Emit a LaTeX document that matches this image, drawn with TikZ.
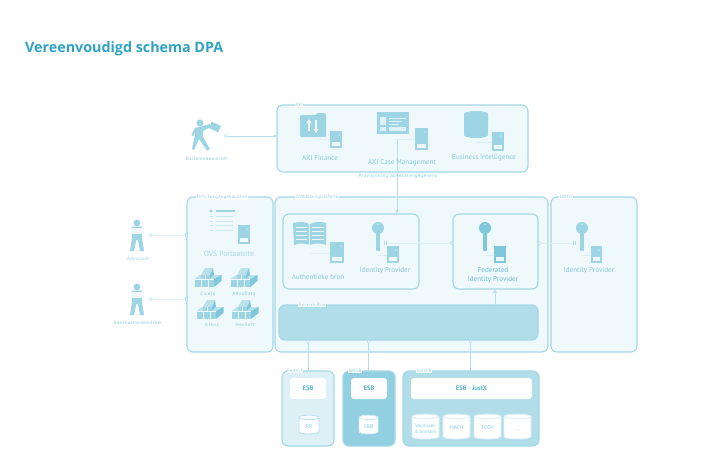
\documentclass[tikz,border=0pt]{standalone}
\usepackage{fontspec}
\setmainfont{PT Sans}
\newfontfamily\tinyfont[LetterSpace=9]{PT Sans}
\newfontfamily\titlefont{Open Sans}
\usetikzlibrary{arrows.meta,calc}
\definecolor{edgeblue}{HTML}{A3D8E6}
\definecolor{iconblue}{HTML}{9DD5E4}
\definecolor{deepblue}{HTML}{7FC7DB}
\definecolor{paleline}{HTML}{DDF0F5}
\definecolor{wire}{HTML}{B4DFEA}
\definecolor{panelbg}{HTML}{EFF8FB}
\definecolor{txtblue}{HTML}{85CBDD}
\definecolor{txtdeep}{HTML}{56B3CE}
\definecolor{titleblue}{HTML}{2FA3C6}
\tikzset{
  x=1pt,y=-1pt,
  panel/.style={draw=edgeblue,fill=panelbg,line width=1.1pt,rounded corners=6pt,anchor=north west,inner sep=0pt,outer sep=0pt},
  esbbox/.style={fill=white,rounded corners=3pt,anchor=north west,inner sep=0pt,outer sep=0pt,text=txtdeep,font=\fontsize{6.5}{7}\selectfont\bfseries},
  tag/.style={fill=white,inner sep=0.6pt,text=txtblue,font=\tinyfont\fontsize{4.6}{5}\selectfont},
  lab/.style={text=txtblue,inner sep=0pt,font=\fontsize{7.1}{9}\selectfont},
  act/.style={text=txtblue,inner sep=0pt,font=\tinyfont\fontsize{4.8}{5}\selectfont},
  cyltext/.style={text=txtblue,inner sep=0pt,align=center,font=\fontsize{5.4}{7}\selectfont},
  link/.style={draw=paleline,line width=0.8pt},
  wirelink/.style={draw=wire,line width=0.8pt},
  ball/.tip={Circle[open,fill=white,color=wire,length=3.6pt,width=3.6pt,line width=0.5pt]},
  bars/.tip={Bar[width=4.5pt,color=wire,line width=0.5pt,sep=1pt] Bar[width=4.5pt,color=wire,line width=0.5pt]},
}
\newcommand{\srv}[4]{%
  \fill[iconblue] (#1,#2) rectangle (#3,#4);
  \fill[panelbg] ($(#1,#4)+(2,-6)$) rectangle ($(#3,#4)+(-2,-2)$);
  \fill[panelbg] ($(#3,#2)+(-3,4)$) circle (0.6);
}
\newcommand{\keyic}[3]{%
  \fill[#3,rounded corners=0.8pt] (#1-1.8,#2) rectangle (#1+1.8,#2+23);
  \fill[#3] (#1,#2) circle (6);
  \fill[panelbg] (#1,#2-3.5) circle (0.7);
}
\newcommand{\cylic}[6]{% x1 y1 x2 y2 body top
  \draw[draw=#6,fill=#5,line width=0.9pt] (#1,#2+2.5) .. controls (#1,#2-0.6) and (#3,#2-0.6) .. (#3,#2+2.5) -- (#3,#4-2.5) .. controls (#3,#4+0.8) and (#1,#4+0.8) .. (#1,#4-2.5) -- cycle;
  \draw[draw=#6,line width=0.9pt] (#1,#2+2.5) .. controls (#1,#2+5.2) and (#3,#2+5.2) .. (#3,#2+2.5);
}
\newcommand{\blocks}[2]{%
  \begin{scope}[shift={(#1,#2)}]
    \fill[iconblue!70] (-13.5,1) -- (-8,-3) -- (-4,-3) -- (-4,1) -- cycle;
    \fill[iconblue!70] (-7,-3) -- (-3,-10) -- (5,-10) -- (2,-3) -- cycle;
    \fill[iconblue] (-7,-3) rectangle (2,1);
    \fill[deepblue] (2,-3) -- (5,-10) -- (6,-3) -- (2,1) -- cycle;
    \fill[iconblue!70] (2,1) -- (6,-3) -- (13.5,-3) -- (6,1) -- cycle;
    \fill[iconblue] (-13.5,1) rectangle (6,9);
    \fill[deepblue] (6,1) -- (13.5,-3) -- (13.5,3) -- (6,9) -- cycle;
    \draw[panelbg,line width=0.4pt] (-7,1) -- (-7,9) (0,1) -- (0,9) (-13.5,1) -- (6,1) (-2.5,-3) -- (-2.5,1);
  \end{scope}
}
\newcommand{\frontperson}[2]{%
  \begin{scope}[shift={(#1,#2)}]
    \fill[iconblue] (0,0) circle (3.4);
    \fill[iconblue] (-5,3.5) -- (5,3.5) -- (5,15) -- (7,28) -- (3,28) -- (0.8,17) -- (-0.8,17) -- (-3,28) -- (-7,28) -- (-5,15) -- cycle;
    \fill[panelbg] (-6.5,5) rectangle (6.5,10.5);
  \end{scope}
}
\begin{document}
\begin{tikzpicture}
\useasboundingbox (0,0) rectangle (711,471);
\fill[white] (0,0) rectangle (711,471);

\node[anchor=west,inner sep=0pt,text=titleblue,font=\titlefont\fontsize{14.3}{16}\selectfont\bfseries] (title) at (25,48.5) {Vereenvoudigd schema DPA};

% panels
\node[panel,minimum width=251pt,minimum height=67pt] (axi) at (277,105) {};
\node[panel,minimum width=86pt,minimum height=155pt] (ovs) at (187,197) {};
\node[panel,minimum width=273pt,minimum height=155pt] (ovb) at (275,197) {};
\node[panel,minimum width=86pt,minimum height=155pt] (obfg) at (551,197) {};
\node[panel,minimum width=136pt,minimum height=75pt] (idpbox) at (283,214) {};
\node[panel,minimum width=85pt,minimum height=75pt] (fedbox) at (453,214) {};
\node[panel,fill=iconblue!80,minimum width=259pt,minimum height=35pt] (bus) at (279,305) {};
\node[panel,fill=iconblue!35,minimum width=52pt,minimum height=75pt] (boxa) at (282,371) {};
\node[panel,fill=deepblue!85,minimum width=52pt,minimum height=75pt] (boxb) at (343,371) {};
\node[panel,fill=iconblue!80,minimum width=136pt,minimum height=75pt] (boxc) at (403,371) {};

% panel labels
\node[tag] (axitag) at (299,105) {AXI};
\node[tag] (ovstag) at (222,197) {OVS Toegangskanalen};
\node[tag] (ovbtag) at (317,197) {OVB Basisplatform};
\node[tag] (obfgtag) at (566,197) {OBFG};
\node[tag] (bustag) at (312,305) {Service Bus};
\node[tag] (atag) at (295,371) {FedICT};
\node[tag] (btag) at (355,371) {NRGB};
\node[tag] (ctag) at (424,371) {JustEX};

% anchors of actors and icons
\coordinate (balie) at (224,136);
\coordinate (advo) at (149,235);
\coordinate (kant) at (149,299);
\coordinate (casesrv) at (397,139);
\coordinate (idpkey) at (384,243);
\coordinate (obfgkey) at (575,243);
\coordinate (fedx) at (495,300);
\coordinate (ax) at (308,350);
\coordinate (bx) at (368.5,350);
\coordinate (cx) at (470.5,350);

% connectors
\draw[wirelink,{ball}-{Latex[length=3pt,width=3pt]}] (balie) -- (axi.west |- balie);
\draw[link,{ball}-{bars}] (advo) -- (ovs.west |- advo);
\draw[link,{ball}-{bars}] (kant) -- (ovs.west |- kant);
\draw[wirelink,-{Latex[length=4pt,width=4pt]}] (casesrv) -- (casesrv |- idpbox.north);
\draw[link,{bars}-{ball}] (idpkey) -- (fedbox.west |- idpkey);
\draw[link,{ball}-{bars}] (fedbox.east |- obfgkey) -- (obfgkey);
\draw[wirelink,-{Latex[length=4pt,width=4.5pt]}] (bus.north -| fedx) -- (fedbox.south -| fedx);
\draw[wirelink,{ball}-] (bus.south -| ax) -- (boxa.north -| ax);
\draw[wirelink,{ball}-] (bus.south -| bx) -- (boxb.north -| bx);
\draw[wirelink,{ball}-] (bus.south -| cx) -- (boxc.north -| cx);

\node[act] (prov) at (398,176.5) {Provisioning advocatengegevens};

% Baliemedewerker
\fill[iconblue] (200,123) circle (3.5);
\fill[iconblue] (195,128) -- (199,127) -- (210,124) -- (211,127) -- (203,131) -- (203,137) -- (210,149) -- (207,150.5) -- (199,139) -- (194,150) -- (192,149) -- (195,135) -- (195,133) -- (193,136) -- (191.5,135) -- cycle;
\fill[iconblue,rotate around={-25:(215,127)}] (210,123.5) rectangle (220,130.5);
\node[act] (baliet) at (207,159) {Baliemedewerker};

% Advocaat and Kantoormedewerker
\frontperson{137}{223}
\frontperson{137}{287}
\node[act] (advot) at (138,258.5) {Advocaat};
\node[act] (kantt) at (138,322.5) {Kantoormedewerker};

% AXI Finance
\fill[iconblue,rounded corners=1pt] (300,115) -- (316,115) -- (317,113) -- (325,113) -- (326,115) -- (326,137) -- (300,137) -- cycle;
\draw[panelbg,line width=1.5pt,-{Latex[length=4pt,width=6pt]}] (309,131) -- (309,119);
\draw[panelbg,line width=1.5pt,-{Latex[length=4pt,width=6pt]}] (316,120) -- (316,133);
\draw[paleline,line width=0.8pt] (313,139) -- (330,139);
\srv{330}{131}{342}{148}
\node[lab] (fin) at (320,158) {AXI Finance};

% AXI Case Management
\fill[iconblue] (377,112) rectangle (409,134);
\fill[panelbg!80!iconblue] (380,117) rectangle (386,125);
\fill[panelbg!80!iconblue] (380,127) rectangle (386,131);
\fill[panelbg!80!iconblue] (389,127) rectangle (406,131);
\draw[panelbg!80!iconblue,line width=0.9pt] (389,118) -- (406,118) (389,121) -- (402,121) (389,124) -- (399,124);
\draw[paleline,line width=0.8pt] (393,139) -- (415,139);
\srv{415}{128}{428}{150}
\node[lab] (cm) at (402,163) {AXI Case Management};

% Business Intelligence
\fill[iconblue] (464,114) .. controls (464,110) and (488,110) .. (488,114) -- (488,135) .. controls (488,139) and (464,139) .. (464,135) -- cycle;
\draw[paleline,line width=0.8pt] (476,142) -- (492,142);
\srv{492}{132}{504}{151}
\node[lab] (bi) at (484,158) {Business Intelligence};

% OVS Portaalsite
\fill[iconblue] (211,211) circle (1.6);
\fill[iconblue] (216,209.8) rectangle (235,212.2);
\draw[paleline!70!iconblue,line width=0.9pt] (216,216.5) -- (233,216.5) (216,221) -- (233,221) (216,225.5) -- (233,225.5) (216,230) -- (233,230) (210,216.5) -- (213,216.5) (210,221) -- (213,221) (210,225.5) -- (213,225.5) (210,230) -- (213,230);
\srv{238}{225}{250}{244}
\node[lab,font=\fontsize{7.6}{9}\selectfont,text=txtblue!75] (port) at (229,254) {OVS Portaalsite};
\blocks{208}{278}
\blocks{244}{278}
\blocks{210}{310}
\blocks{245}{310}
\node[act] (n1) at (208,293.5) {Cicero};
\node[act] (n2) at (244,293.5) {AdvoData};
\node[act] (n3) at (212,325) {Kleos};
\node[act] (n4) at (245,325) {HexSoft};

% Authentieke bron
\fill[iconblue] (293,223) .. controls (300,221) and (306,222) .. (309,224) -- (309,245) .. controls (305,243) and (299,243) .. (295,245) -- (294,245) -- cycle;
\fill[iconblue] (310,224) .. controls (314,222) and (321,221) .. (326,223) -- (326,245) .. controls (321,243) and (314,243) .. (310,245) -- cycle;
\draw[panelbg,line width=0.8pt] (296,227) -- (307,227) (296,231) -- (307,231) (296,235) -- (307,235) (296,239) -- (307,239) (312,227) -- (324,227) (312,231) -- (324,231) (312,235) -- (324,235) (312,239) -- (324,239);
\fill[panelbg] (309,245) circle (1.2);
\fill[panelbg] (302,245) circle (1);
\fill[panelbg] (316,245) circle (1);
\draw[paleline,line width=0.8pt] (310,253) -- (330,253);
\srv{330}{242}{344}{263}
\node[lab] (auth) at (318,277) {Authentieke bron};

% Identity Provider
\keyic{378}{228}{iconblue}
\draw[paleline,line width=0.8pt] (378,255) -- (387,255);
\srv{387}{246}{399}{263}
\node[lab] (idp) at (385,271) {Identity Provider};

% Federated
\keyic{485}{228}{deepblue}
\draw[paleline,line width=0.8pt] (485,255) -- (494,255);
\fill[deepblue] (494,246) rectangle (506,263);
\fill[panelbg] (496,257) rectangle (504,261);
\node[lab,text=txtdeep!85,align=center,font=\fontsize{7.1}{9.2}\selectfont] (fed) at (493,275.5) {Federated\\Identity Provider};

% OBFG
\keyic{582}{228}{iconblue}
\draw[paleline,line width=0.8pt] (582,255) -- (591,255);
\srv{591}{246}{602}{263}
\node[lab] (obidp) at (589,271) {Identity Provider};

% bottom ESBs
\node[esbbox,minimum width=36pt,minimum height=21pt] (esba) at (290,378) {ESB};
\node[esbbox,minimum width=36pt,minimum height=21pt] (esbb) at (351,378) {ESB};
\node[esbbox,minimum width=121pt,minimum height=21pt] (esbc) at (411,378) {ESB - JustX};

% cylinders
\cylic{299}{415}{319}{434}{white}{iconblue!70}
\node[cyltext] (rr) at (309,426.5) {RR};
\cylic{359}{415}{378}{434}{white}{deepblue!40}
\node[cyltext] (cbb) at (368.5,426.5) {CBB};
\cylic{412}{414}{439}{439}{white}{paleline}
\node[cyltext,font=\fontsize{4.8}{6}\selectfont] (vonn) at (425.5,429) {Vonnissen\\\& arresten};
\cylic{443}{414}{470}{439}{white}{paleline}
\node[cyltext] (mach) at (456.5,428) {MACH};
\cylic{474}{414}{501}{439}{white}{paleline}
\node[cyltext] (tcov) at (487.5,428) {TCOV};
\cylic{504}{414}{531}{439}{white}{paleline}
\node[cyltext] (dots) at (517.5,430) {...};
\end{tikzpicture}
\end{document}
